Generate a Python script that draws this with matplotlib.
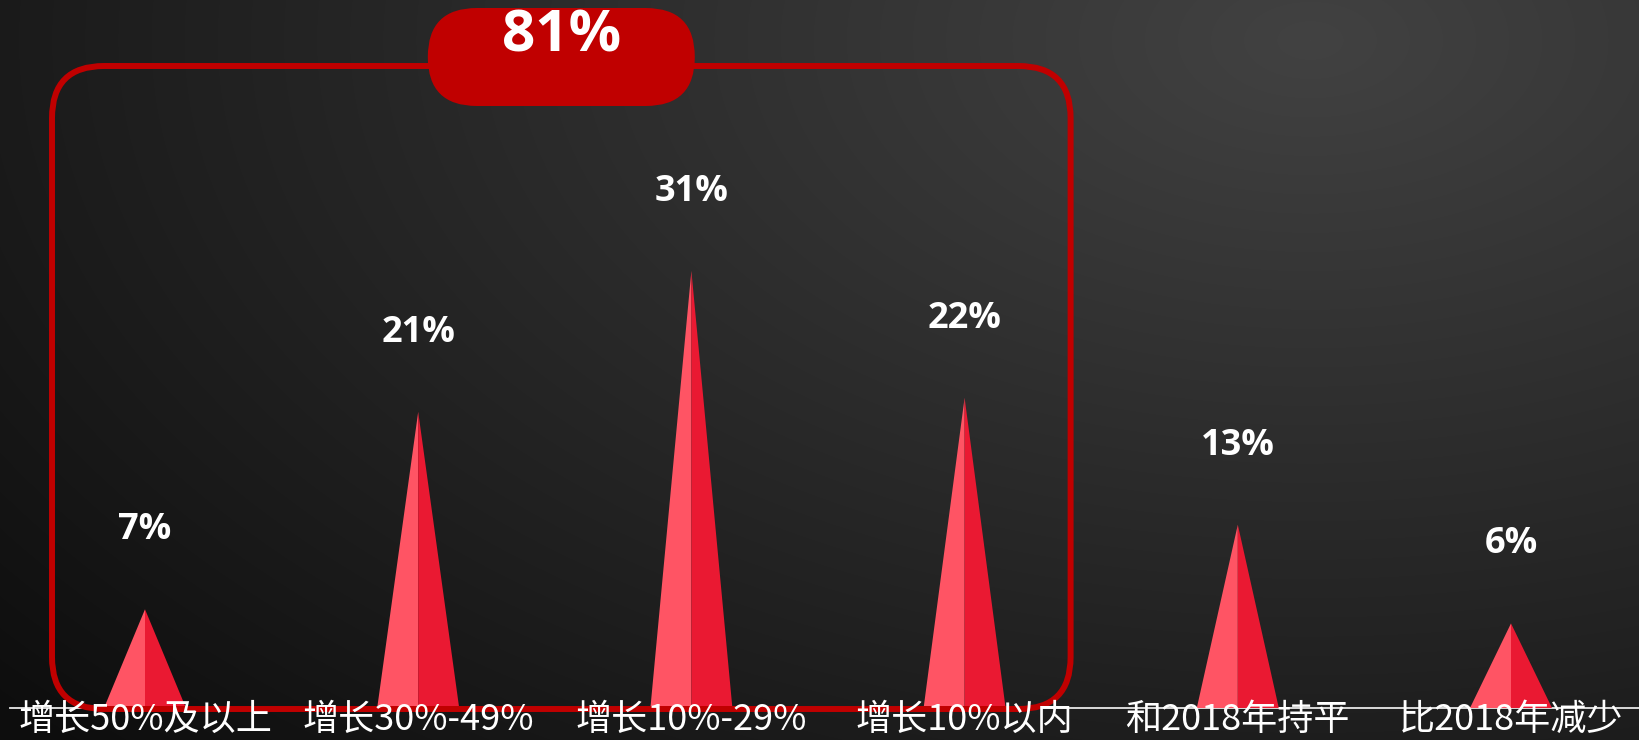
import numpy as np
import matplotlib
matplotlib.use("Agg")
import matplotlib.pyplot as plt
from matplotlib.patches import FancyBboxPatch

categories = ["增长50%及以上", "增长30%-49%", "增长10%-29%", "增长10%以内", "和2018年持平", "比2018年减少"]
shares = [7, 21, 31, 22, 13, 6]
group_label = "81%"
group_first, group_last = 0, 3

W, H = 1640, 740
px_per_cat = 273.2      # horizontal spacing between categories
px_per_pct = 14.1       # vertical pixels per percentage point
x_first = 145           # pixel x of first category
base_px = 708           # pixel y (from top) of the baseline

fig = plt.figure(figsize=(W / 100, H / 100), dpi=100)

# dark radial background, brightest near the upper right
bg = fig.add_axes([0, 0, 1, 1])
yy, xx = np.mgrid[0:H, 0:W]
drop = np.sqrt((0.0302 * (xx - 1310)) ** 2 + (0.052 * (yy - 40)) ** 2)
shade = np.clip(66 - drop, 13, 66) / 255.0
bg.imshow(np.dstack([shade] * 3), extent=(0, 1, 0, 1), aspect="auto", origin="upper")
bg.set_xlim(0, 1)
bg.set_ylim(0, 1)
bg.set_axis_off()

ax = fig.add_axes([0, (H - base_px) / H, 1, base_px / H])
ax.set_xlim(-x_first / px_per_cat, (W - x_first) / px_per_cat)
ax.set_ylim(0, base_px / px_per_pct)
ax.patch.set_alpha(0)
ax.set_axis_off()

# baseline
ax.axhline(0, xmin=10 / W, xmax=1, color="#e8e8e8", lw=1.3, zorder=2, clip_on=False)

half = 41 / px_per_cat
for i, v in enumerate(shares):
    ax.fill([i - half, i, i], [0, v, 0], color="#FF5464", lw=0, zorder=3)
    ax.fill([i, i, i + half], [0, v, 0], color="#EA1932", lw=0, zorder=3)
    ax.annotate(f"{v}%", xy=(i, v), xytext=(0, 57), textcoords="offset points",
                ha="center", va="center", fontsize=26, fontweight="bold",
                color="white", family=["Open Sans", "DejaVu Sans"], zorder=5)
    ax.text(i, -0.85, categories[i], ha="center", va="center", fontsize=26,
            color="white", family=["Noto Sans CJK SC", "DejaVu Sans"],
            zorder=6, clip_on=False)

# rounded frame around the grouped categories
aspect = px_per_cat / px_per_pct
x0 = group_first - 93 / px_per_cat
x1 = group_last + 106 / px_per_cat
y0 = -1 / px_per_pct
y1 = (base_px - 66) / px_per_pct
frame = FancyBboxPatch((x0, y0), x1 - x0, y1 - y0,
                       boxstyle=f"round,pad=0,rounding_size={52 / px_per_cat}",
                       mutation_aspect=aspect, fill=False, ec="#C00000", lw=4.3,
                       zorder=4, clip_on=False)
ax.add_patch(frame)

# pill with the group total
cx = (x0 + x1) / 2
pw = 267 / px_per_cat
py0 = (base_px - 106) / px_per_pct
py1 = (base_px - 8) / px_per_pct
pill = FancyBboxPatch((cx - pw / 2, py0), pw, py1 - py0,
                      boxstyle=f"round,pad=0,rounding_size={49 / px_per_cat}",
                      mutation_aspect=aspect, fc="#C00000", ec="none",
                      zorder=5, clip_on=False)
ax.add_patch(pill)
ax.text(cx, (base_px - 36) / px_per_pct, group_label, ha="center", va="center",
        fontsize=42, fontweight="bold", color="white",
        family=["Open Sans", "DejaVu Sans"], zorder=6)

fig.savefig("out.png", dpi=100)
